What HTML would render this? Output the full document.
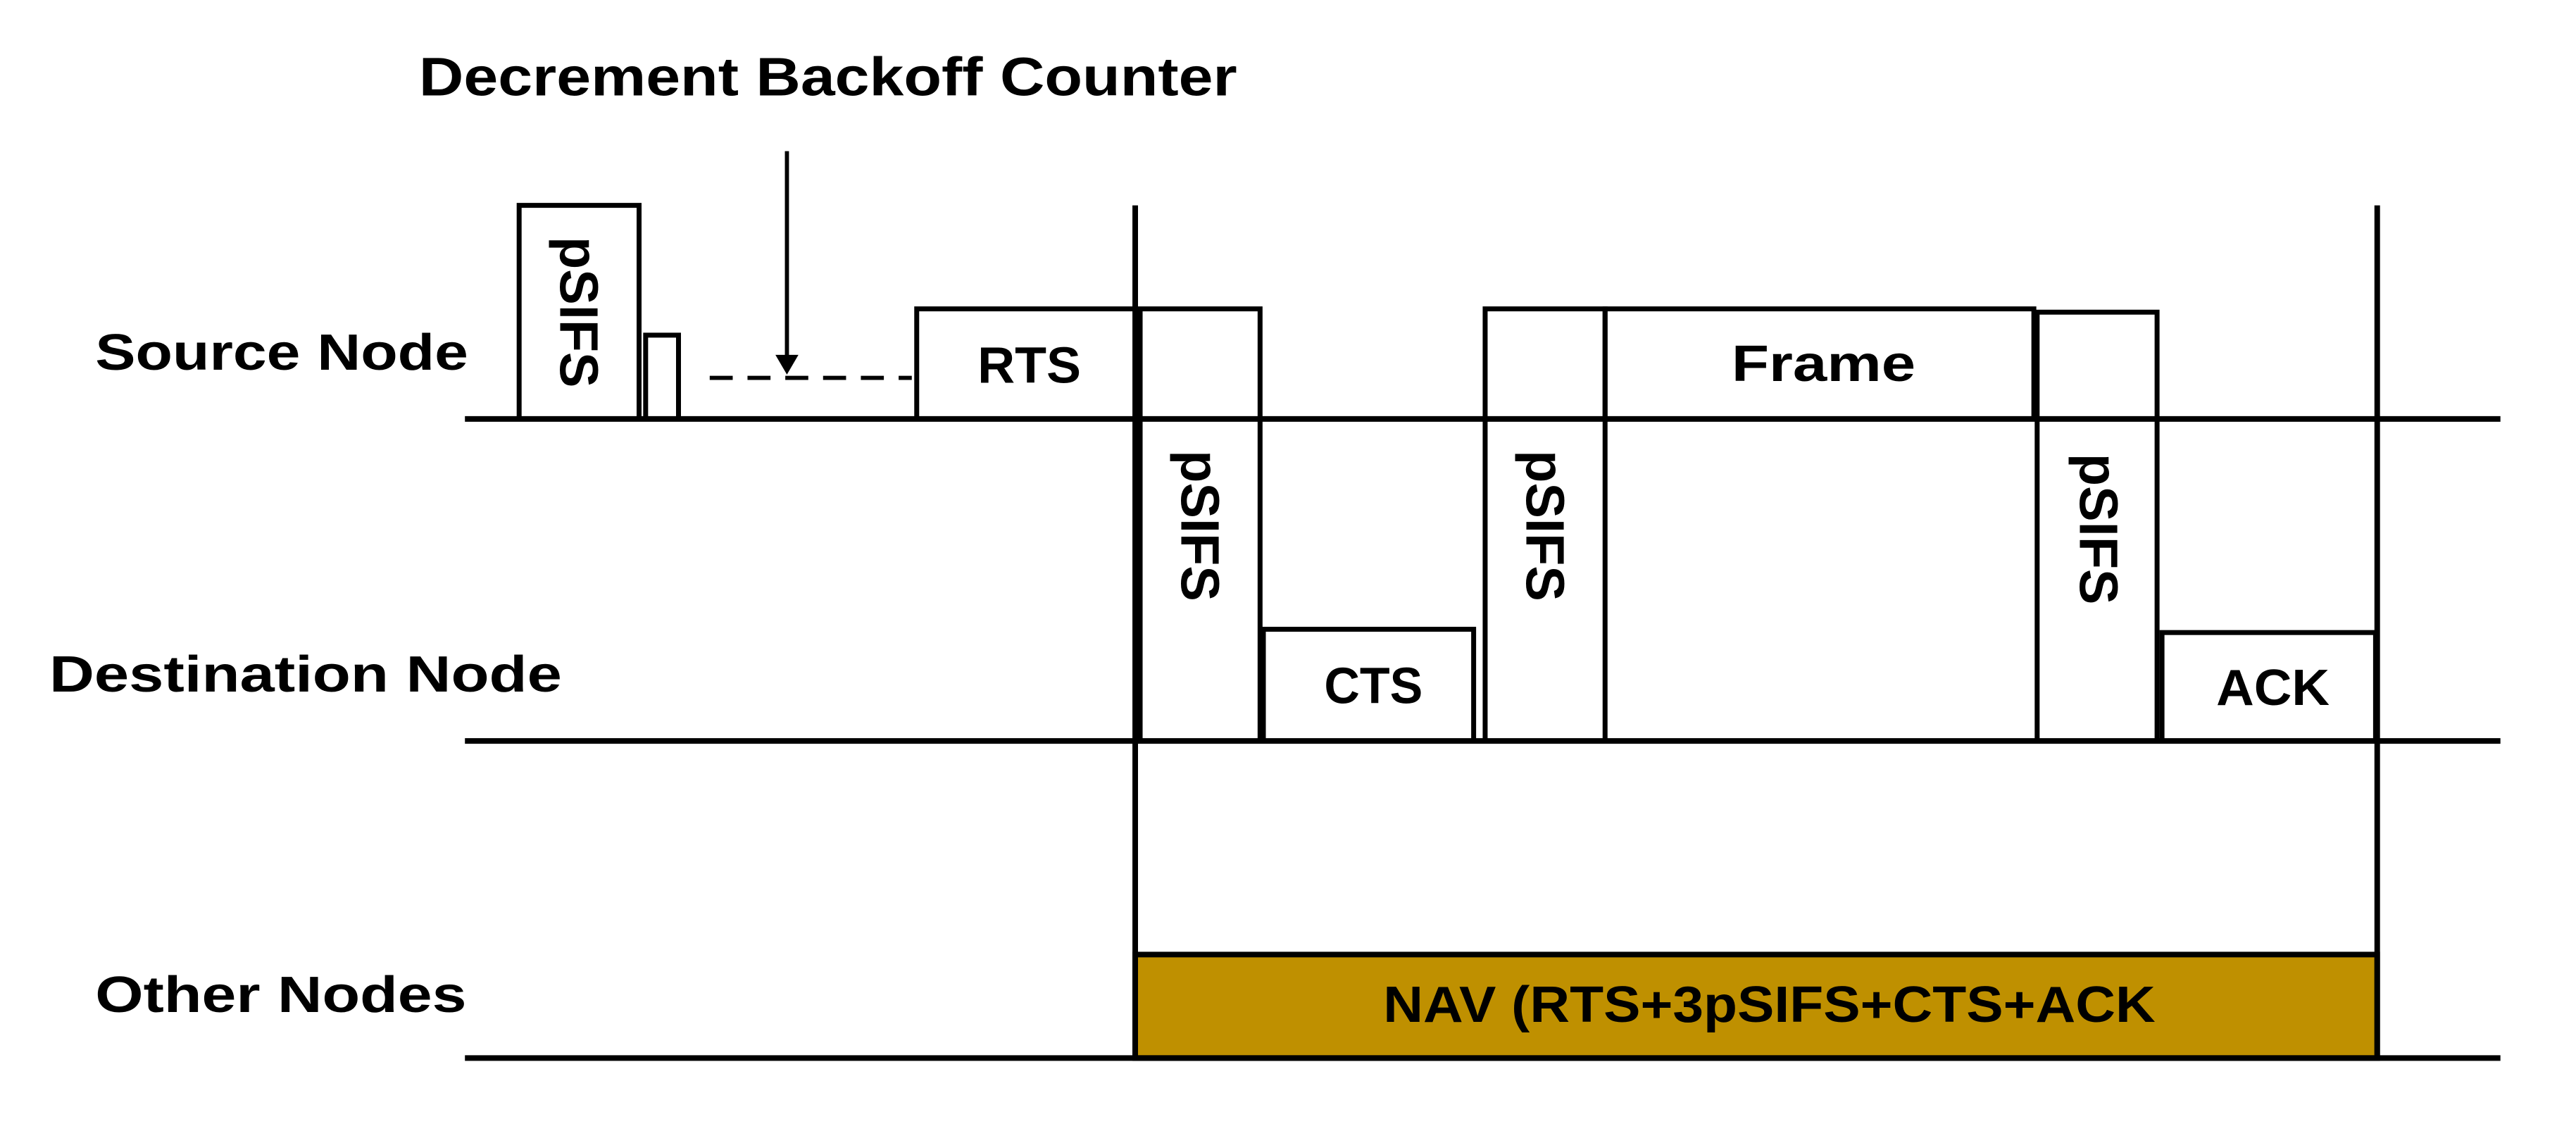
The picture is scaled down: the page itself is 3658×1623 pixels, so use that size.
<!DOCTYPE html>
<html><head><meta charset="utf-8"><style>
html,body{margin:0;padding:0;background:#fff;}
svg{display:block;}
text{font-family:"Liberation Sans",sans-serif;font-weight:bold;fill:#000;}
</style></head><body>
<svg width="3658" height="1623" viewBox="0 0 1568 695.7" preserveAspectRatio="none" xmlns="http://www.w3.org/2000/svg">
<rect width="1568" height="696" fill="#fff"/>
<g stroke="#000" stroke-width="3.4" fill="none">
<!-- NAV -->
<rect x="691" y="581" width="756" height="63" fill="#BF9000"/>
<!-- baselines -->
<line x1="283" y1="255" x2="1522" y2="255"/>
<line x1="283" y1="451" x2="1522" y2="451"/>
<line x1="283" y1="644" x2="1522" y2="644"/>
<!-- verticals -->
<line x1="691" y1="125" x2="691" y2="644"/>
<line x1="1447" y1="125" x2="1447" y2="644"/>
<!-- source boxes -->
<rect x="316" y="125" width="73" height="130" stroke-width="3"/>
<rect x="393" y="204" width="20" height="51" stroke-width="3"/>
<rect x="558" y="188" width="133" height="67" stroke-width="3"/>
<rect x="694" y="188" width="73" height="263" stroke-width="3"/>
<rect x="769" y="383" width="128" height="68" stroke-width="3"/>
<rect x="904" y="188" width="73" height="263" stroke-width="3"/>
<rect x="977" y="188" width="261" height="67" stroke-width="3"/>
<rect x="1240" y="190" width="73" height="261" stroke-width="3"/>
<rect x="1316" y="385" width="130" height="66" stroke-width="3"/>
<!-- dashed -->
<line x1="432" y1="230" x2="555" y2="230" stroke-width="2.5" stroke-dasharray="14,9"/>
<line x1="479" y1="92" x2="479" y2="218" stroke-width="2.5"/>
</g>
<polygon points="472,216 486,216 479,228" fill="#000"/>
<text x="255" y="58" font-size="33" textLength="498" lengthAdjust="spacingAndGlyphs">Decrement Backoff Counter</text>
<text x="58" y="225" font-size="31" textLength="227" lengthAdjust="spacingAndGlyphs">Source Node</text>
<text x="30" y="421" font-size="31" textLength="312" lengthAdjust="spacingAndGlyphs">Destination Node</text>
<text x="58" y="616" font-size="31" textLength="226" lengthAdjust="spacingAndGlyphs">Other Nodes</text>
<text x="595" y="233" font-size="31" textLength="63" lengthAdjust="spacingAndGlyphs">RTS</text>
<text x="806" y="428" font-size="31" textLength="60" lengthAdjust="spacingAndGlyphs">CTS</text>
<text x="1054" y="232" font-size="31" textLength="112" lengthAdjust="spacingAndGlyphs">Frame</text>
<text x="1349" y="429" font-size="31" textLength="69" lengthAdjust="spacingAndGlyphs">ACK</text>
<text x="842" y="622" font-size="31" textLength="470" lengthAdjust="spacingAndGlyphs">NAV (RTS+3pSIFS+CTS+ACK</text>
<g font-size="33">
<text transform="translate(341,144) rotate(90)" textLength="92" lengthAdjust="spacingAndGlyphs">pSIFS</text>
<text transform="translate(719,274) rotate(90)" textLength="92" lengthAdjust="spacingAndGlyphs">pSIFS</text>
<text transform="translate(929,274) rotate(90)" textLength="92" lengthAdjust="spacingAndGlyphs">pSIFS</text>
<text transform="translate(1266,276) rotate(90)" textLength="92" lengthAdjust="spacingAndGlyphs">pSIFS</text>
</g>
</svg>
</body></html>
